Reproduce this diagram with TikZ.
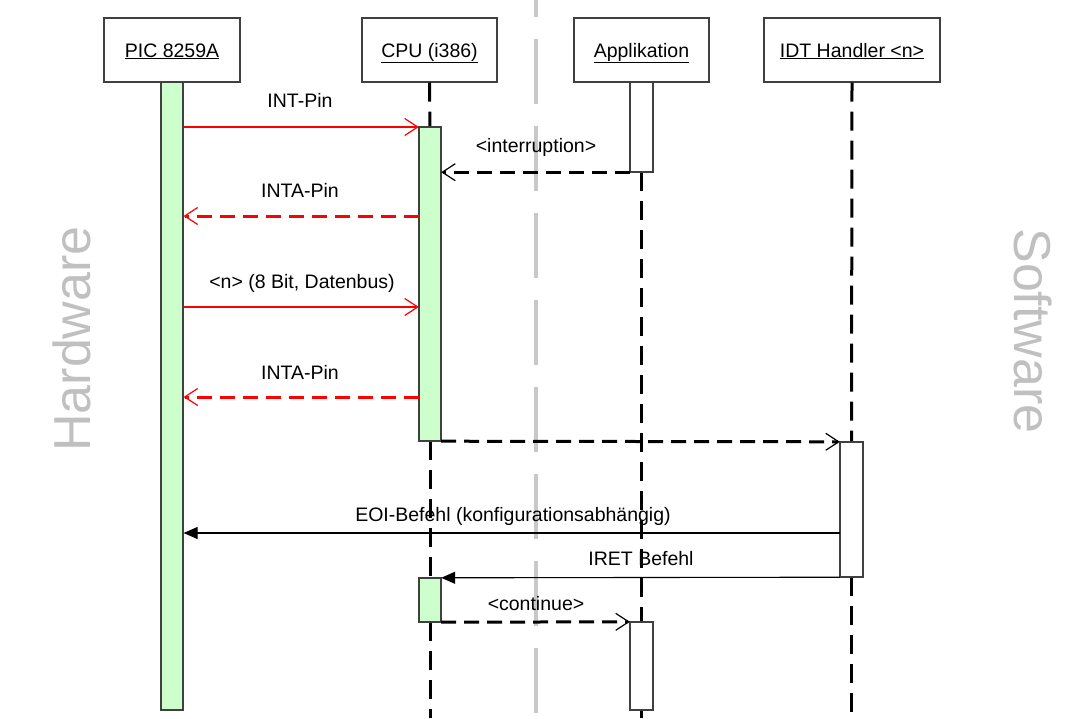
\documentclass[tikz,border=0pt]{standalone}
\usepackage{fontspec}
\setmainfont{Liberation Sans}
\usetikzlibrary{arrows.meta}
\definecolor{actgreen}{HTML}{CCFFCC}
\definecolor{sepgrey}{HTML}{C8C8C8}
\definecolor{bigtext}{HTML}{C0C0C0}
\definecolor{msgred}{HTML}{FF0000}
\begin{document}
\begin{tikzpicture}[x=1pt,y=-1pt,
  every node/.style={font=\fontsize{19.5}{23}\selectfont},
  hdr/.style={draw=black!75,line width=1.3pt,minimum width=#1,minimum height=64pt,inner sep=0pt,fill=white,text height=14pt,text depth=0pt},
  act/.style={draw=black!75,line width=1.2pt,fill=actgreen,minimum width=22pt,minimum height=#1,inner sep=0pt},
  actw/.style={draw=black!75,line width=1.2pt,fill=white,minimum width=22pt,minimum height=#1,inner sep=0pt},
  life/.style={draw=black,line width=3pt,dash pattern=on 19pt off 10pt},
  sepline/.style={draw=sepgrey,line width=3.5pt,dash pattern=on 65pt off 22pt,dash phase=48pt},
  openhead/.style={-{Straight Barb[length=13pt,width=17pt,line width=1.2pt]}},
  fillhead/.style={-{Triangle[length=14pt,width=12pt]}},
  redsolid/.style={draw=msgred,line width=1.1pt,openhead},
  reddash/.style={draw=msgred,line width=3pt,dash pattern=on 15pt off 8pt,openhead},
  blkdash/.style={draw=black,line width=3pt,dash pattern=on 15pt off 8pt,openhead},
  blksolid/.style={draw=black,line width=1.1pt,fillhead},
  lbl/.style={anchor=base,inner sep=0pt},
  side/.style={text=bigtext,font=\fontsize{52}{60}\selectfont,inner sep=0pt}
]
\useasboundingbox (0,0) rectangle (1084,718);

% separator
\coordinate (septop) at (536,0);
\coordinate (sepbot) at (536,718);
\draw[sepline] (septop) -- (sepbot);

% side labels
\node[side,rotate=90] (hw) at (72,339) {Hardware};
\node[side,rotate=-90] (sw) at (1033,331) {Software};

% headers
\node[hdr=136pt] (pic) at (172,50) {\underline{PIC 8259A}};
\node[hdr=135pt] (cpu) at (429.5,50) {\underline{CPU (i386)}};
\node[hdr=135pt] (app) at (641.5,50) {\underline{Applikation}};
\node[hdr=176pt] (idt) at (852,50) {\underline{IDT Handler <n>}};

% activation bar placeholders
\path (172,396) node[act=628pt] (picbar) {};
\coordinate (cpubot) at (430,718);
\coordinate (appbot) at (641.5,718);
\coordinate (idtbot) at (851.5,718);

\path (430,284) node[minimum width=22pt,minimum height=314pt,inner sep=0pt] (cpu1) {};
\path (430,600) node[minimum width=22pt,minimum height=44pt,inner sep=0pt] (cpu2) {};
\path (641.5,127) node[minimum width=23pt,minimum height=90pt,inner sep=0pt] (app1) {};
\path (641.5,666) node[minimum width=23pt,minimum height=88pt,inner sep=0pt] (app2) {};
\path (851.5,509.5) node[minimum width=23pt,minimum height=135pt,inner sep=0pt] (idt1) {};

% lifelines
\draw[life] (cpu.south) -- (cpu1.north);
\draw[life] (cpu1.south) -- (cpu2.north);
\draw[life] (cpu2.south) -- (cpubot);
\draw[life] (app1.south) -- (app2.north);
\draw[life] (app2.south) -- (appbot);
\draw[life] (idt.south) -- (idt1.north);
\draw[life] (idt1.south) -- (idtbot);

% bars drawn
\node[act=628pt] at (picbar) {};
\node[act=314pt] at (cpu1) {};
\node[act=44pt] at (cpu2) {};
\node[actw=90pt,minimum width=23pt] at (app1) {};
\node[actw=88pt,minimum width=23pt] at (app2) {};
\node[actw=135pt,minimum width=23pt] at (idt1) {};

% messages
\draw[redsolid] (picbar.east |- 0,127) -- (cpu1.west |- 0,127);
\node[lbl] (l1) at (300,107) {INT-Pin};

\draw[blkdash] (app1.south west) -- (cpu1.east |- app1.south);
\node[lbl] (l2) at (536,152) {<interruption>};

\draw[reddash] (cpu1.west |- 0,216) -- (picbar.east |- 0,216);
\node[lbl] (l3) at (300,197) {INTA-Pin};

\draw[redsolid] (picbar.east |- 0,307) -- (cpu1.west |- 0,307);
\node[lbl] (l4) at (302,288) {<n> (8 Bit, Datenbus)};

\draw[reddash] (cpu1.west |- 0,397) -- (picbar.east |- 0,397);
\node[lbl] (l5) at (300,379) {INTA-Pin};

\draw[blkdash] (cpu1.south east) -- (idt1.north west);

\draw[blksolid] (idt1.west |- 0,533) -- (picbar.east |- 0,533);
\node[lbl] (l6) at (513,521) {EOI-Befehl (konfigurationsabhängig)};

\draw[blksolid] (idt1.south west) -- (cpu2.north east);
\node[lbl] (l7) at (641,565) {IRET Befehl};

\draw[blkdash] (cpu2.south east) -- (app2.north west);
\node[lbl] (l8) at (536,610) {<continue>};
\end{tikzpicture}
\end{document}
